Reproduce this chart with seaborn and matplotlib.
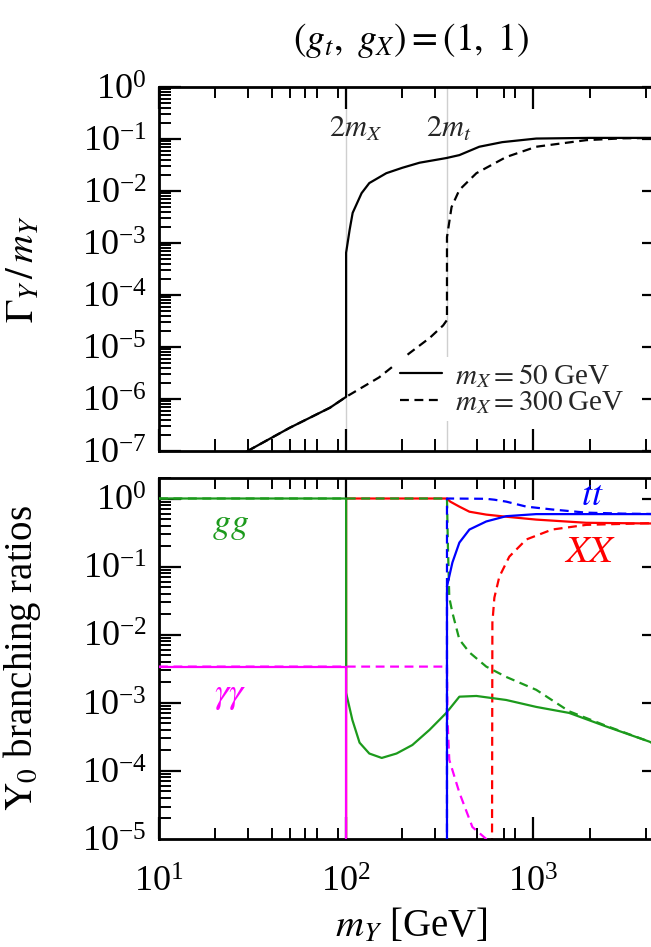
import numpy as np
import pandas as pd
import matplotlib
matplotlib.use("Agg")
import matplotlib.pyplot as plt
from matplotlib.collections import LineCollection
from matplotlib.ticker import LogLocator, FixedLocator, NullFormatter, LogFormatterSciNotation
import seaborn as sns

# ---------------- total width  Gamma_Y / m_Y ----------------
width_m_mx50 = [10, 30.5, 50, 82, 100, 100, 104.4, 108.4, 121, 133, 164, 200, 247, 343,
                403, 515, 683, 1038, 2000, 5000]
width_mx50 = [1.1e-8, 1.05e-7, 2.8e-7, 6.8e-7, 1.1e-6, 6.5e-4, 1.78e-3, 3.8e-3, 9.1e-3,
              1.42e-2, 2.2e-2, 2.8e-2, 3.5e-2, 4.3e-2, 4.9e-2, 7.1e-2, 8.7e-2, 0.102, 0.105, 0.105]

width_m_mx300 = [10, 30.5, 50, 82, 100, 150, 218, 280, 330, 346, 346, 366, 403, 497, 717,
                 1038, 1919, 3000, 5000]
width_mx300 = [1.1e-8, 1.05e-7, 2.8e-7, 6.8e-7, 1.1e-6, 2.6e-6, 7.6e-6, 1.5e-5, 2.6e-5,
               3.3e-5, 1.3e-3, 4.9e-3, 1.05e-2, 2.2e-2, 4.5e-2, 7.1e-2, 9.5e-2, 0.103, 0.105]

thresholds = [100, 346]
threshold_labels = [r"$2m_X$", r"$2m_t$"]
threshold_label_x = [112, 352]

# ---------------- branching ratios ----------------
# gg
br_gg_m_mx50 = [10, 100, 100, 108, 118, 133, 155, 186, 226, 279, 343, 403, 497, 717,
                1038, 1556, 2449, 4160, 5000]
br_gg_mx50 = [1.0, 1.0, 1.4e-3, 5.6e-4, 2.6e-4, 1.8e-4, 1.55e-4, 1.8e-4, 2.4e-4, 4.0e-4,
              7.1e-4, 1.23e-3, 1.26e-3, 1.1e-3, 8.7e-4, 7.1e-4, 4.5e-4, 2.7e-4, 2.2e-4]
br_gg_m_mx300 = [10, 346, 350, 356, 370, 403, 456, 561, 717, 1038, 1556, 2449, 4160, 5000]
br_gg_mx300 = [1.0, 1.0, 0.2, 3.5e-2, 2.1e-2, 8.5e-3, 5.5e-3, 3.4e-3, 2.4e-3, 1.55e-3,
               7.5e-4, 4.6e-4, 2.7e-4, 2.2e-4]

# gamma gamma
br_aa_m_mx50 = [10, 100, 100]
br_aa_mx50 = [3.4e-3, 3.4e-3, 1e-8]
br_aa_m_mx300 = [10, 346, 348, 356, 403, 473, 561, 650]
br_aa_mx300 = [3.4e-3, 3.4e-3, 6e-4, 1.45e-4, 4.8e-5, 1.5e-5, 1.0e-5, 6e-6]

# t tbar
br_tt_m_mx50 = [346, 346, 370, 403, 456, 561, 717, 1038, 5000]
br_tt_mx50 = [1e-8, 5.1e-2, 0.115, 0.225, 0.35, 0.46, 0.55, 0.59, 0.59]
br_tt_m_mx300 = [346, 346, 560, 620, 717, 918, 1262, 1919, 3000, 5000]
br_tt_mx300 = [1e-8, 1.0, 0.99, 0.96, 0.90, 0.76, 0.69, 0.62, 0.60, 0.59]

# X X
br_xx_m_mx50 = [100, 100, 346, 360, 403, 456, 561, 717, 1038, 1919, 4160, 5000]
br_xx_mx50 = [1e-8, 1.0, 1.0, 0.9, 0.76, 0.64, 0.58, 0.54, 0.49, 0.44, 0.43, 0.43]
br_xx_m_mx300 = [600, 605, 620, 659, 745, 918, 1262, 1919, 5000]
br_xx_mx300 = [1e-8, 1.5e-2, 3.5e-2, 7.1e-2, 0.14, 0.25, 0.35, 0.41, 0.44]

x_major_ticks = [10, 100, 1000]
x_minor_ticks = [20, 30, 40, 50, 60, 70, 90, 200, 300, 500, 700, 800, 2000, 4000]

channel_colors = {"gg": "#1c9a1c", "aa": "#ff00ff", "tt": "#0000ff", "xx": "#ff0000"}
channel_labels = [("gg", r"$gg$", 24, 0.40, 26),
                  ("aa", r"$\gamma\gamma$", 24, 1.3e-3, 26),
                  ("tt", r"$tt$", 2065, 1.07, 26),
                  ("xx", r"$XX$", 2014, 0.16, 28)]

# ---------------- style ----------------
sns.set_theme(style="ticks")
plt.rcParams.update({
    "font.family": ["Liberation Serif", "DejaVu Serif"],
    "mathtext.fontset": "stix",
    "axes.unicode_minus": False,
    "axes.linewidth": 2.0,
    "axes.edgecolor": "black",
})

DASH = (4, 2.5)
LW = 1.6
MAJOR_TICK_PX = 22
MINOR_TICK_PX = 11.5

fig = plt.figure(figsize=(6.51, 9.47), dpi=100)
W, H = 651.0, 947.0
ax1 = fig.add_axes([159 / W, (H - 451) / H, 505 / W, 364 / H])
ax2 = fig.add_axes([159 / W, (H - 839) / H, 505 / W, 361 / H])


def draw(ax, xs, ys, color, dashed, z=2):
    df = pd.DataFrame({"m": xs, "v": ys})
    sns.lineplot(data=df, x="m", y="v", ax=ax, estimator=None, sort=False,
                 color=color, lw=LW, zorder=z, legend=False)
    line = ax.lines[-1]
    if dashed:
        line.set_dashes(DASH)
    return line


def add_tick_marks(ax):
    """Inward tick marks on all four sides, drawn as plain line segments."""
    fig_w, fig_h = fig.get_size_inches() * fig.dpi
    pos = ax.get_position()
    ax_w, ax_h = pos.width * fig_w, pos.height * fig_h
    x0, x1 = ax.get_xlim()
    y0, y1 = ax.get_ylim()
    groups = ((ax.xaxis.get_majorticklocs(), ax.yaxis.get_majorticklocs(), MAJOR_TICK_PX, 1.6),
              (ax.xaxis.get_minorticklocs(), ax.yaxis.get_minorticklocs(), MINOR_TICK_PX, 1.4))
    for locs_x, locs_y, length, width in groups:
        fx = length / ax_h
        fy = length / ax_w
        xs = [u for u in locs_x if x0 <= u <= x1]
        ys = [v for v in locs_y if y0 <= v <= y1]
        xseg = [[(u, 0.0), (u, fx)] for u in xs] + [[(u, 1.0 - fx), (u, 1.0)] for u in xs]
        yseg = [[(0.0, v), (fy, v)] for v in ys] + [[(1.0 - fy, v), (1.0, v)] for v in ys]
        if xseg:
            ax.add_collection(LineCollection(xseg, colors="black", linewidths=width,
                                             transform=ax.get_xaxis_transform(),
                                             clip_on=False, zorder=2.6), autolim=False)
        if yseg:
            ax.add_collection(LineCollection(yseg, colors="black", linewidths=width,
                                             transform=ax.get_yaxis_transform(),
                                             clip_on=False, zorder=2.6), autolim=False)


def style_axis(ax, ylo, yhi):
    ax.set_xscale("log")
    ax.set_yscale("log")
    ax.set_xlim(10, 5000)
    ax.set_ylim(ylo, yhi)
    ax.xaxis.set_major_locator(FixedLocator(x_major_ticks))
    ax.xaxis.set_minor_locator(FixedLocator(x_minor_ticks))
    ax.xaxis.set_minor_formatter(NullFormatter())
    ax.xaxis.set_major_formatter(LogFormatterSciNotation())
    ax.yaxis.set_major_locator(LogLocator(base=10, numticks=20))
    ax.yaxis.set_minor_locator(LogLocator(base=10, subs=np.arange(2, 10), numticks=20))
    ax.yaxis.set_minor_formatter(NullFormatter())
    ax.tick_params(which="both", direction="in", top=True, right=True, colors="black",
                   length=0)
    ax.tick_params(which="major", labelsize=26)
    ax.tick_params(axis="y", which="major", pad=9)
    ax.tick_params(axis="x", which="major", pad=20)
    add_tick_marks(ax)


# top panel: total width over mass
for t in thresholds:
    ax1.axvline(t, color="#cfcfcf", lw=1.0, zorder=1)
l50 = draw(ax1, width_m_mx50, width_mx50, "black", False, z=3)
l300 = draw(ax1, width_m_mx300, width_mx300, "black", True, z=3)
style_axis(ax1, 1e-7, 1.0)

for lab, xm in zip(threshold_labels, threshold_label_x):
    ax1.text(xm, 0.11, lab, ha="center", va="baseline", fontsize=22, zorder=4)

leg = ax1.legend([l50, l300], [r"$m_X = 50\;$GeV", r"$m_X = 300\;$GeV"],
                 loc="center left", bbox_to_anchor=(0.468, 0.170), frameon=True,
                 fontsize=21, handlelength=1.45, handletextpad=0.45, labelspacing=0.0,
                 borderpad=0.15, borderaxespad=0.0, fancybox=False)
leg.get_frame().set_facecolor("white")
leg.get_frame().set_edgecolor("none")
leg.get_frame().set_alpha(1.0)

# bottom panel: branching ratios (red under green under magenta under blue)
draw(ax2, br_xx_m_mx50, br_xx_mx50, channel_colors["xx"], False, z=2)
draw(ax2, br_xx_m_mx300, br_xx_mx300, channel_colors["xx"], True, z=2)
draw(ax2, br_gg_m_mx50, br_gg_mx50, channel_colors["gg"], False, z=3)
draw(ax2, br_gg_m_mx300, br_gg_mx300, channel_colors["gg"], True, z=3)
draw(ax2, br_aa_m_mx50, br_aa_mx50, channel_colors["aa"], False, z=4)
draw(ax2, br_aa_m_mx300, br_aa_mx300, channel_colors["aa"], True, z=4)
draw(ax2, br_tt_m_mx300, br_tt_mx300, channel_colors["tt"], True, z=5)
draw(ax2, br_tt_m_mx50, br_tt_mx50, channel_colors["tt"], False, z=5)
style_axis(ax2, 1e-5, 2.0)

for key, txt, xm, yv, fs in channel_labels:
    ax2.text(xm, yv, txt, color=channel_colors[key], ha="center", va="center",
             fontsize=fs, zorder=6)

ax1.tick_params(labelbottom=False)
ax1.set_xlabel("")
ax1.set_ylabel(r"$\Gamma_Y\,/\,m_Y$", fontsize=28, color="black")
ax1.yaxis.set_label_coords(-0.23, 0.5)
ax2.set_ylabel(r"$\mathrm{Y}_0$ branching ratios", fontsize=28, color="black")
ax2.yaxis.set_label_coords(-0.23, 0.5)
ax2.set_xlabel(r"$m_Y$ [GeV]", fontsize=28, color="black")
ax2.xaxis.set_label_coords(0.5, -0.19)

fig.text(411 / W, 1 - 40 / H, r"$(g_t,\ g_X) = (1,\ 1)$", ha="center", va="center",
         fontsize=27, color="black")

fig.savefig("out.png", dpi=100, facecolor="white")
